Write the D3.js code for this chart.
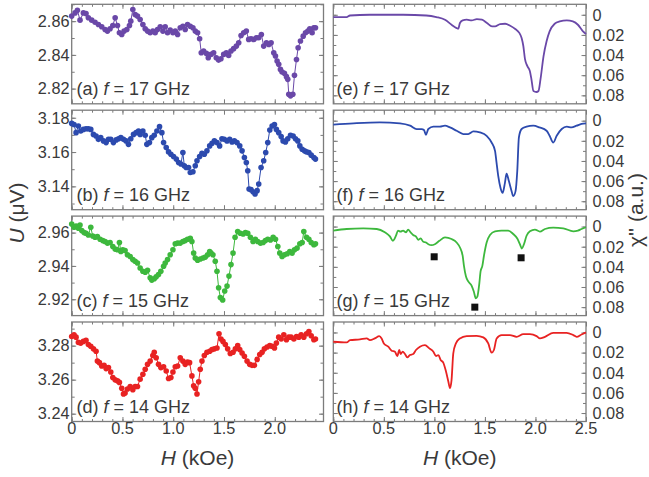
<!DOCTYPE html>
<html>
<head>
<meta charset="utf-8">
<script src="https://cdn.jsdelivr.net/npm/d3@7"></script>
<style>
  body { margin: 0; background: #fff; }
  svg { display: block; font-family: 'Liberation Sans', Arial, sans-serif; }
</style>
</head>
<body>
<svg id="chart" width="649" height="477"></svg>
<script>
// U (uV) vs H (kOe), one list of [H, U] per frequency
const uA = [[0.000,2.8630],[0.033,2.8649],[0.056,2.8665],[0.082,2.8606],[0.115,2.8649],[0.141,2.8645],[0.164,2.8620],[0.197,2.8606],[0.230,2.8594],[0.263,2.8580],[0.296,2.8567],[0.329,2.8551],[0.352,2.8541],[0.378,2.8555],[0.405,2.8574],[0.428,2.8620],[0.451,2.8574],[0.470,2.8531],[0.493,2.8521],[0.516,2.8541],[0.543,2.8551],[0.569,2.8574],[0.582,2.8600],[0.602,2.8669],[0.625,2.8639],[0.648,2.8630],[0.674,2.8610],[0.701,2.8580],[0.724,2.8555],[0.747,2.8541],[0.773,2.8531],[0.799,2.8541],[0.822,2.8531],[0.845,2.8551],[0.872,2.8567],[0.898,2.8541],[0.921,2.8567],[0.944,2.8531],[0.970,2.8547],[0.997,2.8531],[1.020,2.8541],[1.043,2.8521],[1.069,2.8561],[1.095,2.8570],[1.118,2.8551],[1.141,2.8580],[1.168,2.8570],[1.194,2.8561],[1.217,2.8541],[1.240,2.8531],[1.260,2.8496],[1.276,2.8413],[1.299,2.8423],[1.326,2.8409],[1.345,2.8383],[1.372,2.8403],[1.398,2.8413],[1.424,2.8383],[1.447,2.8369],[1.470,2.8377],[1.497,2.8403],[1.523,2.8413],[1.546,2.8397],[1.569,2.8423],[1.595,2.8437],[1.622,2.8452],[1.645,2.8472],[1.668,2.8515],[1.694,2.8531],[1.720,2.8541],[1.743,2.8492],[1.766,2.8496],[1.793,2.8492],[1.819,2.8502],[1.842,2.8502],[1.868,2.8521],[1.891,2.8452],[1.918,2.8472],[1.941,2.8462],[1.964,2.8472],[1.990,2.8413],[2.007,2.8393],[2.023,2.8364],[2.039,2.8344],[2.056,2.8314],[2.072,2.8299],[2.095,2.8291],[2.115,2.8271],[2.128,2.8255],[2.138,2.8167],[2.155,2.8157],[2.178,2.8167],[2.194,2.8279],[2.214,2.8373],[2.230,2.8442],[2.253,2.8482],[2.280,2.8511],[2.303,2.8531],[2.326,2.8541],[2.345,2.8555],[2.368,2.8531],[2.385,2.8561],[2.401,2.8561]];

const uB = [[0.000,3.1767],[0.023,3.1761],[0.043,3.1713],[0.066,3.1752],[0.089,3.1723],[0.115,3.1732],[0.141,3.1736],[0.164,3.1736],[0.188,3.1732],[0.214,3.1703],[0.240,3.1694],[0.263,3.1674],[0.286,3.1684],[0.313,3.1665],[0.339,3.1655],[0.362,3.1674],[0.385,3.1674],[0.411,3.1655],[0.438,3.1671],[0.461,3.1678],[0.484,3.1684],[0.510,3.1674],[0.536,3.1665],[0.559,3.1645],[0.582,3.1678],[0.609,3.1703],[0.635,3.1713],[0.658,3.1723],[0.674,3.1703],[0.701,3.1723],[0.724,3.1698],[0.740,3.1645],[0.766,3.1655],[0.789,3.1684],[0.813,3.1698],[0.839,3.1723],[0.865,3.1748],[0.888,3.1713],[0.905,3.1655],[0.931,3.1626],[0.954,3.1601],[0.977,3.1587],[1.003,3.1574],[1.030,3.1559],[1.053,3.1539],[1.076,3.1530],[1.095,3.1597],[1.109,3.1520],[1.128,3.1510],[1.151,3.1510],[1.168,3.1481],[1.194,3.1485],[1.217,3.1520],[1.234,3.1549],[1.260,3.1574],[1.283,3.1593],[1.306,3.1587],[1.332,3.1607],[1.359,3.1636],[1.382,3.1651],[1.405,3.1665],[1.431,3.1655],[1.457,3.1636],[1.480,3.1678],[1.503,3.1674],[1.530,3.1665],[1.556,3.1674],[1.579,3.1659],[1.602,3.1665],[1.628,3.1655],[1.655,3.1636],[1.678,3.1607],[1.701,3.1568],[1.720,3.1539],[1.734,3.1491],[1.747,3.1385],[1.766,3.1381],[1.786,3.1369],[1.806,3.1356],[1.826,3.1375],[1.842,3.1414],[1.865,3.1510],[1.891,3.1549],[1.911,3.1597],[1.931,3.1655],[1.951,3.1729],[1.974,3.1752],[1.997,3.1761],[2.016,3.1732],[2.039,3.1713],[2.063,3.1690],[2.082,3.1665],[2.105,3.1659],[2.128,3.1678],[2.155,3.1698],[2.181,3.1694],[2.204,3.1678],[2.227,3.1665],[2.247,3.1636],[2.270,3.1616],[2.293,3.1607],[2.313,3.1601],[2.336,3.1597],[2.359,3.1582],[2.385,3.1568],[2.401,3.1559]];

const uC = [[0.000,2.9651],[0.023,2.9632],[0.043,2.9640],[0.066,2.9626],[0.082,2.9646],[0.099,2.9612],[0.122,2.9600],[0.141,2.9596],[0.164,2.9586],[0.188,2.9632],[0.207,2.9580],[0.230,2.9572],[0.253,2.9576],[0.280,2.9560],[0.306,2.9552],[0.329,2.9547],[0.352,2.9537],[0.378,2.9541],[0.405,2.9517],[0.428,2.9501],[0.451,2.9497],[0.470,2.9541],[0.484,2.9487],[0.503,2.9497],[0.526,2.9493],[0.549,2.9467],[0.576,2.9457],[0.602,2.9438],[0.625,2.9428],[0.648,2.9418],[0.674,2.9388],[0.701,2.9368],[0.724,2.9362],[0.747,2.9374],[0.773,2.9329],[0.789,2.9315],[0.813,2.9323],[0.832,2.9335],[0.855,2.9349],[0.878,2.9368],[0.905,2.9398],[0.921,2.9418],[0.944,2.9438],[0.970,2.9467],[0.997,2.9497],[1.020,2.9533],[1.043,2.9537],[1.069,2.9537],[1.095,2.9547],[1.118,2.9552],[1.141,2.9560],[1.168,2.9566],[1.184,2.9547],[1.201,2.9477],[1.217,2.9448],[1.240,2.9434],[1.266,2.9442],[1.293,2.9448],[1.316,2.9453],[1.339,2.9467],[1.359,2.9487],[1.372,2.9477],[1.391,2.9467],[1.414,2.9428],[1.431,2.9368],[1.447,2.9269],[1.464,2.9210],[1.487,2.9196],[1.507,2.9250],[1.530,2.9279],[1.549,2.9339],[1.569,2.9408],[1.589,2.9477],[1.609,2.9572],[1.635,2.9606],[1.661,2.9596],[1.688,2.9592],[1.711,2.9600],[1.734,2.9596],[1.760,2.9572],[1.786,2.9547],[1.809,2.9560],[1.832,2.9547],[1.859,2.9537],[1.885,2.9541],[1.908,2.9552],[1.931,2.9560],[1.957,2.9556],[1.984,2.9572],[2.007,2.9560],[2.030,2.9517],[2.049,2.9477],[2.072,2.9457],[2.095,2.9467],[2.122,2.9473],[2.148,2.9487],[2.171,2.9477],[2.194,2.9497],[2.220,2.9507],[2.247,2.9533],[2.270,2.9541],[2.286,2.9606],[2.313,2.9572],[2.336,2.9560],[2.359,2.9541],[2.385,2.9527],[2.401,2.9533]];

const uD = [[0.000,3.2854],[0.023,3.2864],[0.043,3.2850],[0.066,3.2819],[0.089,3.2815],[0.115,3.2825],[0.141,3.2831],[0.164,3.2806],[0.188,3.2796],[0.214,3.2781],[0.240,3.2767],[0.253,3.2709],[0.273,3.2700],[0.296,3.2680],[0.319,3.2684],[0.339,3.2665],[0.362,3.2671],[0.385,3.2645],[0.405,3.2613],[0.428,3.2599],[0.451,3.2593],[0.470,3.2584],[0.493,3.2549],[0.510,3.2516],[0.526,3.2522],[0.549,3.2545],[0.576,3.2560],[0.602,3.2541],[0.625,3.2560],[0.648,3.2560],[0.674,3.2603],[0.701,3.2632],[0.724,3.2661],[0.747,3.2690],[0.773,3.2709],[0.799,3.2742],[0.813,3.2761],[0.832,3.2729],[0.855,3.2690],[0.878,3.2671],[0.905,3.2676],[0.931,3.2651],[0.954,3.2607],[0.977,3.2613],[0.997,3.2645],[1.020,3.2676],[1.043,3.2680],[1.069,3.2729],[1.095,3.2709],[1.118,3.2690],[1.141,3.2703],[1.161,3.2700],[1.184,3.2622],[1.201,3.2564],[1.217,3.2549],[1.234,3.2516],[1.250,3.2587],[1.266,3.2661],[1.283,3.2709],[1.306,3.2742],[1.332,3.2761],[1.359,3.2767],[1.382,3.2777],[1.405,3.2781],[1.431,3.2786],[1.451,3.2870],[1.470,3.2839],[1.490,3.2825],[1.513,3.2806],[1.536,3.2781],[1.562,3.2754],[1.589,3.2761],[1.612,3.2781],[1.635,3.2800],[1.655,3.2777],[1.678,3.2757],[1.701,3.2738],[1.727,3.2709],[1.753,3.2690],[1.776,3.2684],[1.799,3.2684],[1.826,3.2719],[1.852,3.2748],[1.875,3.2761],[1.898,3.2781],[1.924,3.2792],[1.951,3.2800],[1.974,3.2796],[1.997,3.2786],[2.016,3.2815],[2.039,3.2850],[2.063,3.2839],[2.089,3.2864],[2.115,3.2835],[2.138,3.2850],[2.161,3.2850],[2.188,3.2839],[2.214,3.2854],[2.237,3.2850],[2.260,3.2864],[2.286,3.2850],[2.313,3.2870],[2.336,3.2883],[2.359,3.2858],[2.385,3.2835],[2.401,3.2839]];

// chi'' (a.u.) vs H (kOe), one list of [H, chi] per frequency
const chiE = [[0.000,0.0023],[0.132,0.0023],[0.165,0.0007],[0.360,0.0000],[0.690,0.0000],[0.920,0.0007],[1.020,0.0023],[1.105,0.0050],[1.170,0.0099],[1.220,0.0132],[1.236,0.0138],[1.253,0.0082],[1.280,0.0056],[1.320,0.0049],[1.370,0.0056],[1.420,0.0043],[1.470,0.0049],[1.520,0.0082],[1.570,0.0115],[1.600,0.0115],[1.650,0.0092],[1.700,0.0089],[1.750,0.0109],[1.800,0.0141],[1.840,0.0180],[1.863,0.0230],[1.880,0.0310],[1.896,0.0438],[1.920,0.0510],[1.945,0.0560],[1.960,0.0640],[1.980,0.0757],[2.010,0.0767],[2.030,0.0757],[2.050,0.0640],[2.080,0.0410],[2.110,0.0263],[2.140,0.0165],[2.190,0.0089],[2.240,0.0066],[2.310,0.0056],[2.370,0.0066],[2.420,0.0099],[2.470,0.0165],[2.500,0.0190]];

const chiF = [[0.000,0.0040],[0.200,0.0027],[0.460,0.0017],[0.660,0.0027],[0.760,0.0050],[0.825,0.0083],[0.874,0.0083],[0.897,0.0093],[0.917,0.0140],[0.940,0.0083],[0.990,0.0060],[1.055,0.0060],[1.105,0.0050],[1.154,0.0067],[1.220,0.0100],[1.286,0.0133],[1.335,0.0133],[1.385,0.0107],[1.450,0.0117],[1.517,0.0150],[1.566,0.0217],[1.600,0.0300],[1.615,0.0417],[1.632,0.0550],[1.655,0.0670],[1.675,0.0717],[1.698,0.0617],[1.714,0.0527],[1.737,0.0600],[1.764,0.0700],[1.780,0.0750],[1.803,0.0700],[1.820,0.0500],[1.836,0.0167],[1.863,0.0083],[1.912,0.0060],[1.978,0.0050],[2.040,0.0067],[2.110,0.0100],[2.140,0.0150],[2.176,0.0217],[2.210,0.0150],[2.260,0.0083],[2.310,0.0060],[2.357,0.0067],[2.407,0.0050],[2.456,0.0033],[2.500,0.0027]];

const chiG = [[0.000,0.0040],[0.132,0.0024],[0.297,0.0017],[0.430,0.0024],[0.510,0.0057],[0.560,0.0097],[0.590,0.0141],[0.620,0.0091],[0.640,0.0040],[0.665,0.0050],[0.690,0.0040],[0.720,0.0057],[0.740,0.0030],[0.765,0.0057],[0.790,0.0084],[0.817,0.0097],[0.840,0.0131],[0.864,0.0118],[0.890,0.0151],[0.917,0.0158],[0.940,0.0175],[0.973,0.0185],[1.005,0.0175],[1.050,0.0141],[1.105,0.0108],[1.170,0.0124],[1.220,0.0158],[1.253,0.0208],[1.280,0.0292],[1.293,0.0393],[1.312,0.0494],[1.335,0.0544],[1.369,0.0588],[1.390,0.0645],[1.410,0.0712],[1.425,0.0696],[1.445,0.0561],[1.457,0.0444],[1.474,0.0393],[1.490,0.0292],[1.517,0.0158],[1.550,0.0084],[1.600,0.0047],[1.665,0.0040],[1.730,0.0040],[1.780,0.0074],[1.820,0.0118],[1.846,0.0175],[1.866,0.0218],[1.886,0.0175],[1.912,0.0091],[1.945,0.0047],[1.995,0.0030],[2.044,0.0050],[2.094,0.0024],[2.176,0.0010],[2.275,0.0017],[2.374,0.0047],[2.420,0.0040],[2.456,0.0024],[2.500,0.0007]];

const chiH = [[0.000,0.0092],[0.132,0.0099],[0.165,0.0076],[0.264,0.0069],[0.330,0.0059],[0.363,0.0076],[0.410,0.0059],[0.455,0.0036],[0.478,0.0059],[0.500,0.0109],[0.544,0.0141],[0.577,0.0181],[0.610,0.0191],[0.633,0.0234],[0.653,0.0174],[0.666,0.0214],[0.686,0.0191],[0.709,0.0214],[0.732,0.0247],[0.758,0.0224],[0.791,0.0214],[0.818,0.0174],[0.857,0.0141],[0.907,0.0125],[0.950,0.0158],[0.990,0.0191],[1.016,0.0234],[1.040,0.0224],[1.062,0.0273],[1.088,0.0299],[1.115,0.0388],[1.138,0.0487],[1.154,0.0553],[1.170,0.0470],[1.187,0.0207],[1.213,0.0109],[1.253,0.0059],[1.319,0.0036],[1.418,0.0033],[1.484,0.0049],[1.533,0.0109],[1.566,0.0201],[1.589,0.0174],[1.616,0.0059],[1.665,0.0026],[1.748,0.0026],[1.813,0.0043],[1.880,0.0016],[1.945,0.0016],[2.011,0.0036],[2.044,0.0059],[2.094,0.0043],[2.176,0.0003],[2.308,0.0003],[2.374,0.0026],[2.407,0.0043],[2.456,0.0020],[2.500,0.0000]];

// black squares marked in panel (g)
const squaresG = [[0.998,0.030],[1.400,0.080],[1.858,0.031]];

const uSeries = [uA, uB, uC, uD];
const chiSeries = [chiE, chiF, chiG, chiH];
const uLetters = ['(a)', '(b)', '(c)', '(d)'];
const chiLetters = ['(e)', '(f)', '(g)', '(h)'];
const freqs = ['17', '16', '15', '14'];
const colors = ['#6a48a8', '#2c4aae', '#3db83d', '#e82222'];
const uDomains = [[2.811, 2.870], [3.1264, 3.1844], [2.9102, 2.9699], [3.2354, 3.2939]];
const uTicks = [[2.82, 2.84, 2.86], [3.14, 3.16, 3.18], [2.92, 2.94, 2.96], [3.24, 3.26, 3.28]];
const chiDomain = [-0.0104, 0.0884];
const chiTicks = [0, 0.02, 0.04, 0.06, 0.08];
const hTicksLeft = [0, 0.5, 1.0, 1.5, 2.0];
const hTicksRight = [0, 0.5, 1.0, 1.5, 2.0, 2.5];

const svg = d3.select('#chart');
const frameColor = '#7c7c7c';
const textColor = '#3a3a3a';
const panelH = 99.5;
const panelTop = (i) => 4.3 + i * 105.9;

const hLeft = d3.scaleLinear().domain([0, 2.48]).range([71.7, 323.5]);
const hRight = d3.scaleLinear().domain([0, 2.5]).range([333.3, 586]);

const fmtH = (d) => d === 0 ? '0' : d3.format('.1f')(d);
const fmtChi = (d) => d === 0 ? '0' : d3.format('.2f')(d);

function hundredths(domain) {
  return d3.range(Math.ceil(domain[0] * 100 - 1e-6), Math.floor(domain[1] * 100 + 1e-6) + 1).map((v) => v / 100);
}

function tickSet(g, axis, values, size) {
  g.call(axis.tickValues(values).tickSize(-size).tickFormat(''));
  g.select('.domain').remove();
  g.selectAll('line').attr('stroke', frameColor).attr('stroke-width', 1);
}

function drawFrame(x, y, top, yMinor, yMajor) {
  const [x0, x1] = x.range();
  const bottom = top + panelH;
  const xMinor = d3.range(0, x.domain()[1] + 1e-6, 0.1);
  const xMajor = d3.range(0, x.domain()[1] + 1e-6, 0.5);
  const g = svg.append('g');

  [[d3.axisBottom, bottom], [d3.axisTop, top]].forEach(([ax, pos]) => {
    tickSet(g.append('g').attr('transform', `translate(0,${pos})`), ax(x), xMinor, 2.5);
    tickSet(g.append('g').attr('transform', `translate(0,${pos})`), ax(x), xMajor, 4.5);
  });
  [[d3.axisLeft, x0], [d3.axisRight, x1]].forEach(([ax, pos]) => {
    tickSet(g.append('g').attr('transform', `translate(${pos},0)`), ax(y), yMinor, 3);
    tickSet(g.append('g').attr('transform', `translate(${pos},0)`), ax(y), yMajor, 4.5);
  });

  g.append('rect')
    .attr('x', x0).attr('y', top)
    .attr('width', x1 - x0).attr('height', panelH)
    .attr('fill', 'none')
    .attr('stroke', frameColor)
    .attr('stroke-width', 1.3);
}

function panelLabel(x, y, letter, freq) {
  const t = svg.append('text')
    .attr('x', x).attr('y', y)
    .attr('font-size', '18px')
    .attr('fill', textColor);
  t.append('tspan').text(letter + ' ');
  t.append('tspan').attr('font-style', 'italic').text('f');
  t.append('tspan').text(` = ${freq} GHz`);
}

// left column: U vs H, markers joined by a thin line
uSeries.forEach(function(data, i) {
  const top = panelTop(i);
  const y = d3.scaleLinear().domain(uDomains[i]).range([top + panelH, top]);

  drawFrame(hLeft, y, top, hundredths(uDomains[i]), uTicks[i]);

  svg.append('g').selectAll('text').data(uTicks[i]).enter()
    .append('text')
    .attr('x', 69.5)
    .attr('y', (d) => y(d) + 5.8)
    .attr('text-anchor', 'end')
    .attr('font-size', '16.3px')
    .attr('fill', textColor)
    .text((d) => d3.format('.2f')(d));

  const line = d3.line()
    .x((d) => hLeft(d[0]))
    .y((d) => y(d[1]));

  svg.append('path')
    .datum(data)
    .attr('d', line)
    .attr('fill', 'none')
    .attr('stroke', colors[i])
    .attr('stroke-width', 1);

  svg.append('g').selectAll('circle').data(data).enter()
    .append('circle')
    .attr('cx', (d) => hLeft(d[0]))
    .attr('cy', (d) => y(d[1]))
    .attr('r', 2.8)
    .attr('fill', colors[i]);

  panelLabel(76.5, top + 91, uLetters[i], freqs[i]);
});

// right column: chi'' vs H, axis reversed (0 on top)
chiSeries.forEach(function(data, i) {
  const top = panelTop(i);
  const y = d3.scaleLinear().domain(chiDomain).range([top, top + panelH]);

  drawFrame(hRight, y, top, hundredths([0, 0.08]), chiTicks);

  svg.append('g').selectAll('text').data(chiTicks).enter()
    .append('text')
    .attr('x', 592.5)
    .attr('y', (d) => y(d) + 5.8)
    .attr('font-size', '16.3px')
    .attr('fill', textColor)
    .text(fmtChi);

  const line = d3.line()
    .x((d) => hRight(d[0]))
    .y((d) => y(d[1]))
    .curve(d3.curveMonotoneX);

  svg.append('path')
    .datum(data)
    .attr('d', line)
    .attr('fill', 'none')
    .attr('stroke', colors[i])
    .attr('stroke-width', 1.8)
    .attr('stroke-linejoin', 'round');

  if (i === 2) {
    svg.append('g').selectAll('rect').data(squaresG).enter()
      .append('rect')
      .attr('x', (d) => hRight(d[0]) - 3.5)
      .attr('y', (d) => y(d[1]) - 3.5)
      .attr('width', 7)
      .attr('height', 7)
      .attr('fill', '#111');
  }

  panelLabel(336.5, top + 91, chiLetters[i], freqs[i]);
});

// bottom tick labels
const bottomY = panelTop(3) + panelH + 12;
[[hLeft, hTicksLeft], [hRight, hTicksRight]].forEach(function([x, ticks]) {
  svg.append('g').selectAll('text').data(ticks).enter()
    .append('text')
    .attr('x', (d) => x(d))
    .attr('y', bottomY)
    .attr('text-anchor', 'middle')
    .attr('font-size', '16.3px')
    .attr('fill', textColor)
    .text(fmtH);

  const title = svg.append('text')
    .attr('x', (x.range()[0] + x.range()[1]) / 2)
    .attr('y', 465)
    .attr('text-anchor', 'middle')
    .attr('font-size', '21px')
    .attr('fill', textColor);
  title.append('tspan').attr('font-style', 'italic').text('H');
  title.append('tspan').text(' (kOe)');
});

// axis titles
const uTitle = svg.append('text')
  .attr('transform', 'translate(24,213) rotate(-90)')
  .attr('text-anchor', 'middle')
  .attr('font-size', '21px')
  .attr('fill', textColor);
uTitle.append('tspan').attr('font-style', 'italic').text('U');
uTitle.append('tspan').text(' (\u03bcV)');

svg.append('text')
  .attr('transform', 'translate(643,210) rotate(-90)')
  .attr('text-anchor', 'middle')
  .attr('font-size', '21px')
  .attr('fill', textColor)
  .text('\u03c7\'\' (a.u.)');
</script>
</body>
</html>
